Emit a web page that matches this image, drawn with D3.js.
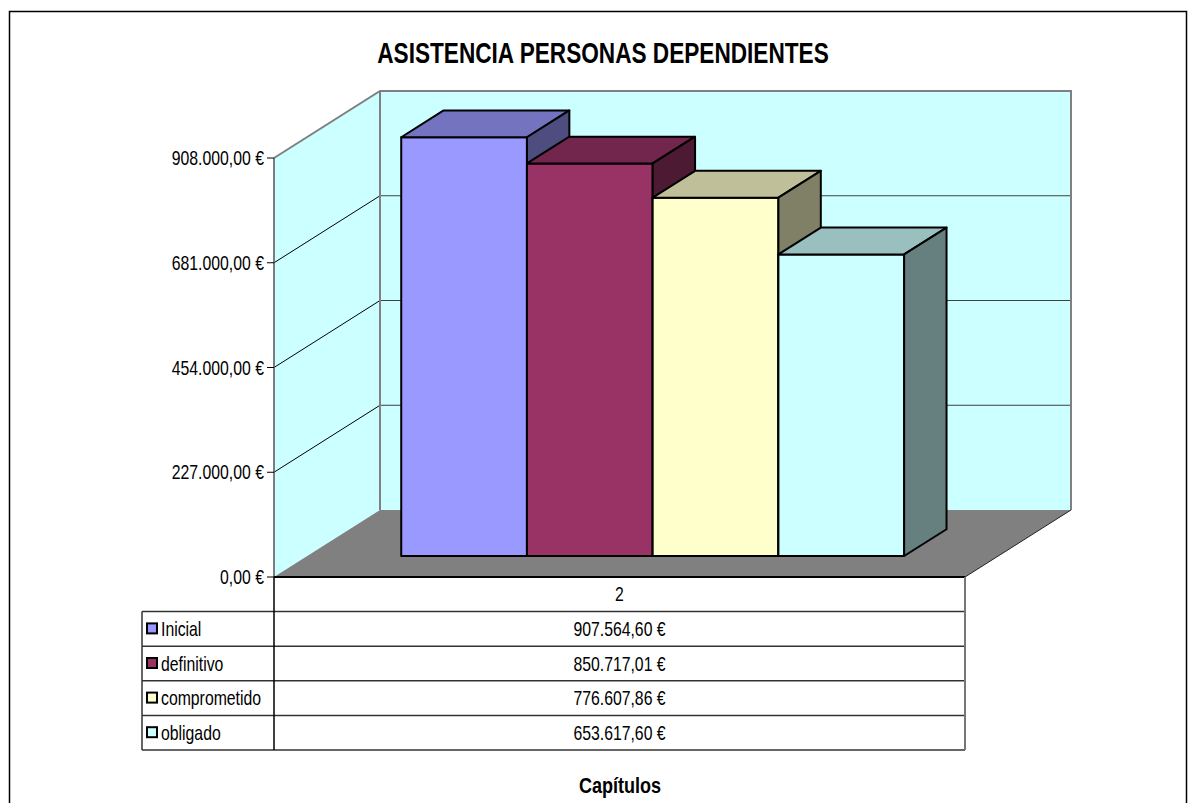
<!DOCTYPE html>
<html>
<head>
<meta charset="utf-8">
<script src="https://cdn.jsdelivr.net/npm/d3@7"></script>
<style>
html,body{margin:0;padding:0;background:#fff;}
svg{display:block;}
text{font-family:"Liberation Sans",Arial,sans-serif;fill:#000;}
</style>
</head>
<body>
<div id="chart"></div>
<script>
// ---- data ----
const title = "ASISTENCIA PERSONAS DEPENDIENTES";
const axisTitle = "Capítulos";
const categories = ["2"];
const series = ["Inicial", "definitivo", "comprometido", "obligado"];
const values = [907564.60, 850717.01, 776607.86, 653617.60];
const tickValues = [0, 227000, 454000, 681000, 908000];
const colors = ["#9999FF", "#993366", "#FFFFCC", "#CCFFFF"];

// ---- layout ----
const W = 1194, H = 803;
const plot = {left: 274, right: 965, bottom: 577, top: 158};
const depth = [106, -67];           // full depth offset of walls
const barD0 = 0.313, barD = 0.40;   // bar position / thickness in depth fraction
const table = {left: 142, rowH: 34.6};
const SX = 0.79;                    // horizontal text compression

const loc = d3.formatLocale({decimal: ",", thousands: ".", grouping: [3], currency: ["", " €"]});
const fmt = loc.format("$,.2f");

const svg = d3.select("#chart").append("svg").attr("width", W).attr("height", H);
svg.append("rect").attr("width", W).attr("height", H).attr("fill", "#fff");

const y = d3.scaleLinear().domain([0, d3.max(tickValues)]).range([plot.bottom, plot.top]);
const x = d3.scaleBand().domain(categories).range([plot.left, plot.right]).paddingOuter(0.187).paddingInner(0);
const xs = d3.scaleBand().domain(series).range([0, x.bandwidth()]);
const color = d3.scaleOrdinal().domain(series).range(colors);

const P = (px, py, d) => [px + d * depth[0], py + d * depth[1]];
const line = d3.line();
function poly(g, pts, fill, stroke, sw) {
  return g.append("path").attr("d", line(pts) + "Z")
    .attr("fill", fill).attr("stroke", stroke).attr("stroke-width", sw).attr("stroke-linejoin", "round");
}
function txt(g, x0, y0, s, size, weight, anchor, sx) {
  return g.append("text").attr("transform", `translate(${x0},${y0}) scale(${sx},1)`)
    .attr("font-size", size).attr("font-weight", weight).attr("text-anchor", anchor).text(s);
}

// outer frame
svg.append("rect").attr("x", 9.5).attr("y", 11.5).attr("width", 1177).attr("height", 900)
  .attr("fill", "none").attr("stroke", "#000").attr("stroke-width", 1.5);

// title
txt(svg, 603, 63, title, 29, "bold", "middle", 0.78);

const g = svg.append("g");
const y0 = y(0), yTop = y(d3.max(tickValues));

// side wall
poly(g, [[plot.left, y0], [plot.left, yTop], P(plot.left, yTop, 1), P(plot.left, y0, 1)], "#CCFFFF", "none", 0);
// back wall
poly(g, [P(plot.left, yTop, 1), P(plot.right, yTop, 1), P(plot.right, y0, 1), P(plot.left, y0, 1)], "#CCFFFF", "none", 0);

// gridlines
tickValues.slice(1, -1).forEach(v => {
  const a = [plot.left, y(v)], b = P(plot.left, y(v), 1), c = P(plot.right, y(v), 1);
  g.append("path").attr("d", line([a, b])).attr("stroke", "#000").attr("stroke-width", 1).attr("fill", "none");
  g.append("path").attr("d", line([b, c])).attr("stroke", "#404040").attr("stroke-width", 1).attr("fill", "none");
});

// wall outlines
g.append("path").attr("d", line([[plot.left, yTop], P(plot.left, yTop, 1), P(plot.right, yTop, 1), P(plot.right, y0, 1)]))
  .attr("fill", "none").attr("stroke", "#808080").attr("stroke-width", 2);
g.append("path").attr("d", line([P(plot.left, yTop, 1), P(plot.left, y0, 1)]))
  .attr("fill", "none").attr("stroke", "#808080").attr("stroke-width", 2);

// floor
poly(g, [[plot.left, y0], [plot.right, y0], P(plot.right, y0, 1), P(plot.left, y0, 1)], "#808080", "none", 0);
g.append("path").attr("d", line([[plot.right, y0], P(plot.right, y0, 1)])).attr("stroke", "#222").attr("stroke-width", 1).attr("fill", "none");

// value axis
g.append("path").attr("d", line([[plot.left, y0], [plot.left, yTop]])).attr("stroke", "#555").attr("stroke-width", 1.5);
tickValues.forEach(v => {
  g.append("path").attr("d", line([[plot.left - 7, y(v)], [plot.left, y(v)]])).attr("stroke", "#000").attr("stroke-width", 1);
  txt(g, plot.left - 10, y(v) + 7, fmt(v), 20, "normal", "end", SX);
});

// bars
const bars = g.append("g");
series.forEach((s, i) => {
  const v = values[i];
  const xl = x(categories[0]) + xs(s), xr = xl + xs.bandwidth();
  const yb = y0, yt = y(v);
  const c = d3.color(color(s));
  const top = d3.rgb(c.r * 0.75, c.g * 0.75, c.b * 0.75);
  const side = d3.rgb(c.r * 0.5, c.g * 0.5, c.b * 0.5);
  const d0 = barD0, d1 = barD0 + barD;
  poly(bars, [P(xl, yb, d0), P(xr, yb, d0), P(xr, yt, d0), P(xl, yt, d0)], c, "#000", 2);
  poly(bars, [P(xl, yt, d0), P(xr, yt, d0), P(xr, yt, d1), P(xl, yt, d1)], top, "#000", 2);
  poly(bars, [P(xr, yb, d0), P(xr, yb, d1), P(xr, yt, d1), P(xr, yt, d0)], side, "#000", 2);
});

// floor front edge
g.append("path").attr("d", line([[plot.left, y0], [plot.right, y0]])).attr("stroke", "#000").attr("stroke-width", 2);

// data table
const tg = svg.append("g");
const rowTop = i => y0 + i * table.rowH;  // i=0 header
const nRows = series.length + 1;
// horizontal lines
for (let i = 1; i <= nRows; i++) {
  tg.append("path").attr("d", line([[table.left, rowTop(i)], [plot.right, rowTop(i)]]))
    .attr("stroke", "#333").attr("stroke-width", 1.5);
}
tg.append("path").attr("d", line([[table.left, rowTop(1)], [table.left, rowTop(nRows)]])).attr("stroke", "#333").attr("stroke-width", 1.5);
tg.append("path").attr("d", line([[plot.left, y0], [plot.left, rowTop(nRows)]])).attr("stroke", "#000").attr("stroke-width", 1.5);
tg.append("path").attr("d", line([[plot.right, y0], [plot.right, rowTop(nRows)]])).attr("stroke", "#777").attr("stroke-width", 2);

const cx = x(categories[0]) + x.bandwidth() / 2;
txt(tg, (plot.left + plot.right) / 2, rowTop(0) + table.rowH / 2 + 7, categories[0], 20, "normal", "middle", SX);
series.forEach((s, i) => {
  const mid = rowTop(i + 1) + table.rowH / 2;
  tg.append("rect").attr("x", 147).attr("y", mid - 5.5).attr("width", 10).attr("height", 10)
    .attr("fill", color(s)).attr("stroke", "#000").attr("stroke-width", 2);
  txt(tg, 161, mid + 7, s, 20, "normal", "start", SX);
  txt(tg, (plot.left + plot.right) / 2, mid + 7, fmt(values[i]), 20, "normal", "middle", SX);
});

// category axis title
txt(svg, 620, 793, axisTitle, 22, "bold", "middle", 0.82);
</script>
</body>
</html>
